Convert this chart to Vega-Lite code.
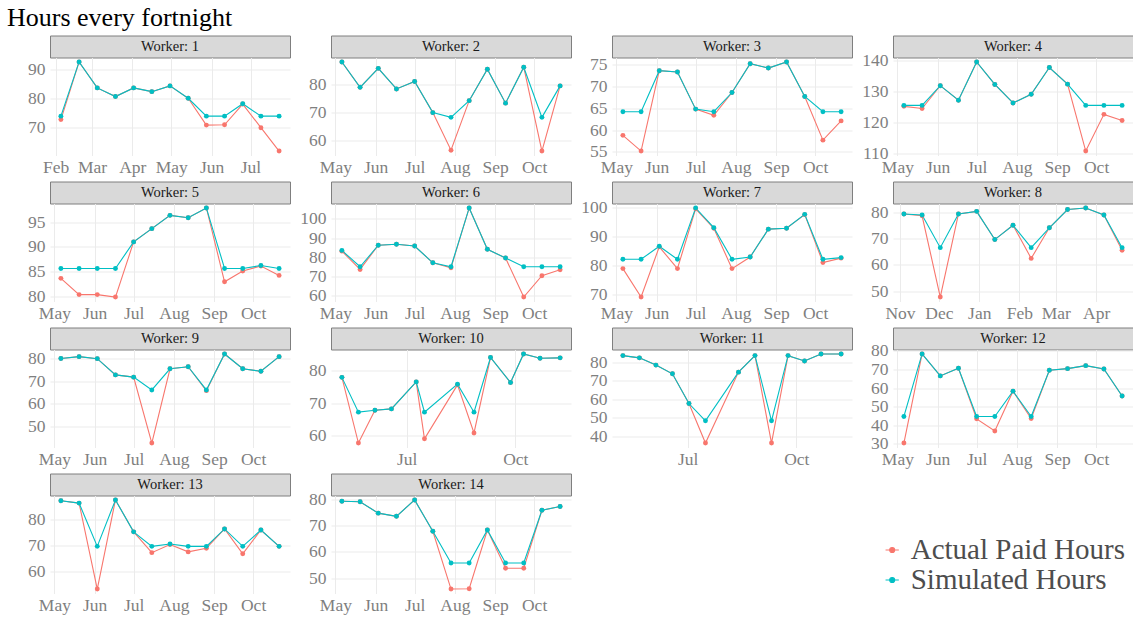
{
"$schema": "https://vega.github.io/schema/vega-lite/v6.json",
"padding": {"left": 7, "top": 4.5, "right": 0, "bottom": 0},
"background": "white",
"title": {"text": "Hours every fortnight", "anchor": "start", "frame": "group", "dx": -43, "offset": -17, "baseline": "alphabetic", "font": "Liberation Serif", "fontSize": 26, "fontWeight": "normal", "color": "#000000"},
"data": {"values": [
{"w":1,"d":"2019-02-05","s":"Actual Paid Hours","h":72.6},{"w":1,"d":"2019-02-19","s":"Actual Paid Hours","h":92.6},{"w":1,"d":"2019-03-05","s":"Actual Paid Hours","h":83.6},{"w":1,"d":"2019-03-19","s":"Actual Paid Hours","h":80.6},{"w":1,"d":"2019-04-02","s":"Actual Paid Hours","h":83.6},{"w":1,"d":"2019-04-16","s":"Actual Paid Hours","h":82.3},{"w":1,"d":"2019-04-30","s":"Actual Paid Hours","h":84.3},{"w":1,"d":"2019-05-14","s":"Actual Paid Hours","h":80.0},{"w":1,"d":"2019-05-28","s":"Actual Paid Hours","h":70.7},{"w":1,"d":"2019-06-11","s":"Actual Paid Hours","h":70.8},{"w":1,"d":"2019-06-25","s":"Actual Paid Hours","h":78.0},{"w":1,"d":"2019-07-09","s":"Actual Paid Hours","h":69.8},{"w":1,"d":"2019-07-23","s":"Actual Paid Hours","h":61.7},
{"w":1,"d":"2019-02-05","s":"Simulated Hours","h":73.8},{"w":1,"d":"2019-02-19","s":"Simulated Hours","h":92.6},{"w":1,"d":"2019-03-05","s":"Simulated Hours","h":83.6},{"w":1,"d":"2019-03-19","s":"Simulated Hours","h":80.6},{"w":1,"d":"2019-04-02","s":"Simulated Hours","h":83.6},{"w":1,"d":"2019-04-16","s":"Simulated Hours","h":82.3},{"w":1,"d":"2019-04-30","s":"Simulated Hours","h":84.3},{"w":1,"d":"2019-05-14","s":"Simulated Hours","h":80.0},{"w":1,"d":"2019-05-28","s":"Simulated Hours","h":73.8},{"w":1,"d":"2019-06-11","s":"Simulated Hours","h":73.8},{"w":1,"d":"2019-06-25","s":"Simulated Hours","h":78.1},{"w":1,"d":"2019-07-09","s":"Simulated Hours","h":73.8},{"w":1,"d":"2019-07-23","s":"Simulated Hours","h":73.8},
{"w":2,"d":"2019-05-06","s":"Actual Paid Hours","h":88.1},{"w":2,"d":"2019-05-20","s":"Actual Paid Hours","h":79.0},{"w":2,"d":"2019-06-03","s":"Actual Paid Hours","h":85.8},{"w":2,"d":"2019-06-17","s":"Actual Paid Hours","h":78.4},{"w":2,"d":"2019-07-01","s":"Actual Paid Hours","h":81.1},{"w":2,"d":"2019-07-15","s":"Actual Paid Hours","h":69.9},{"w":2,"d":"2019-07-29","s":"Actual Paid Hours","h":56.4},{"w":2,"d":"2019-08-12","s":"Actual Paid Hours","h":74.2},{"w":2,"d":"2019-08-26","s":"Actual Paid Hours","h":85.5},{"w":2,"d":"2019-09-09","s":"Actual Paid Hours","h":73.3},{"w":2,"d":"2019-09-23","s":"Actual Paid Hours","h":86.2},{"w":2,"d":"2019-10-07","s":"Actual Paid Hours","h":56.1},{"w":2,"d":"2019-10-21","s":"Actual Paid Hours","h":79.5},
{"w":2,"d":"2019-05-06","s":"Simulated Hours","h":88.1},{"w":2,"d":"2019-05-20","s":"Simulated Hours","h":79.0},{"w":2,"d":"2019-06-03","s":"Simulated Hours","h":85.8},{"w":2,"d":"2019-06-17","s":"Simulated Hours","h":78.4},{"w":2,"d":"2019-07-01","s":"Simulated Hours","h":81.1},{"w":2,"d":"2019-07-15","s":"Simulated Hours","h":69.9},{"w":2,"d":"2019-07-29","s":"Simulated Hours","h":68.2},{"w":2,"d":"2019-08-12","s":"Simulated Hours","h":74.2},{"w":2,"d":"2019-08-26","s":"Simulated Hours","h":85.5},{"w":2,"d":"2019-09-09","s":"Simulated Hours","h":73.3},{"w":2,"d":"2019-09-23","s":"Simulated Hours","h":86.2},{"w":2,"d":"2019-10-07","s":"Simulated Hours","h":68.2},{"w":2,"d":"2019-10-21","s":"Simulated Hours","h":79.5},
{"w":3,"d":"2019-05-06","s":"Actual Paid Hours","h":58.8},{"w":3,"d":"2019-05-20","s":"Actual Paid Hours","h":55.2},{"w":3,"d":"2019-06-03","s":"Actual Paid Hours","h":73.6},{"w":3,"d":"2019-06-17","s":"Actual Paid Hours","h":73.3},{"w":3,"d":"2019-07-01","s":"Actual Paid Hours","h":64.8},{"w":3,"d":"2019-07-15","s":"Actual Paid Hours","h":63.4},{"w":3,"d":"2019-07-29","s":"Actual Paid Hours","h":68.6},{"w":3,"d":"2019-08-12","s":"Actual Paid Hours","h":75.2},{"w":3,"d":"2019-08-26","s":"Actual Paid Hours","h":74.2},{"w":3,"d":"2019-09-09","s":"Actual Paid Hours","h":75.6},{"w":3,"d":"2019-09-23","s":"Actual Paid Hours","h":67.7},{"w":3,"d":"2019-10-07","s":"Actual Paid Hours","h":57.7},{"w":3,"d":"2019-10-21","s":"Actual Paid Hours","h":62.1},
{"w":3,"d":"2019-05-06","s":"Simulated Hours","h":64.2},{"w":3,"d":"2019-05-20","s":"Simulated Hours","h":64.2},{"w":3,"d":"2019-06-03","s":"Simulated Hours","h":73.6},{"w":3,"d":"2019-06-17","s":"Simulated Hours","h":73.3},{"w":3,"d":"2019-07-01","s":"Simulated Hours","h":64.8},{"w":3,"d":"2019-07-15","s":"Simulated Hours","h":64.2},{"w":3,"d":"2019-07-29","s":"Simulated Hours","h":68.6},{"w":3,"d":"2019-08-12","s":"Simulated Hours","h":75.2},{"w":3,"d":"2019-08-26","s":"Simulated Hours","h":74.2},{"w":3,"d":"2019-09-09","s":"Simulated Hours","h":75.6},{"w":3,"d":"2019-09-23","s":"Simulated Hours","h":67.7},{"w":3,"d":"2019-10-07","s":"Simulated Hours","h":64.2},{"w":3,"d":"2019-10-21","s":"Simulated Hours","h":64.2},
{"w":4,"d":"2019-05-06","s":"Actual Paid Hours","h":125.2},{"w":4,"d":"2019-05-20","s":"Actual Paid Hours","h":124.5},{"w":4,"d":"2019-06-03","s":"Actual Paid Hours","h":131.9},{"w":4,"d":"2019-06-17","s":"Actual Paid Hours","h":127.2},{"w":4,"d":"2019-07-01","s":"Actual Paid Hours","h":139.6},{"w":4,"d":"2019-07-15","s":"Actual Paid Hours","h":132.3},{"w":4,"d":"2019-07-29","s":"Actual Paid Hours","h":126.3},{"w":4,"d":"2019-08-12","s":"Actual Paid Hours","h":129.1},{"w":4,"d":"2019-08-26","s":"Actual Paid Hours","h":137.8},{"w":4,"d":"2019-09-09","s":"Actual Paid Hours","h":132.4},{"w":4,"d":"2019-09-23","s":"Actual Paid Hours","h":110.7},{"w":4,"d":"2019-10-07","s":"Actual Paid Hours","h":122.6},{"w":4,"d":"2019-10-21","s":"Actual Paid Hours","h":120.6},
{"w":4,"d":"2019-05-06","s":"Simulated Hours","h":125.5},{"w":4,"d":"2019-05-20","s":"Simulated Hours","h":125.5},{"w":4,"d":"2019-06-03","s":"Simulated Hours","h":131.9},{"w":4,"d":"2019-06-17","s":"Simulated Hours","h":127.2},{"w":4,"d":"2019-07-01","s":"Simulated Hours","h":139.6},{"w":4,"d":"2019-07-15","s":"Simulated Hours","h":132.3},{"w":4,"d":"2019-07-29","s":"Simulated Hours","h":126.3},{"w":4,"d":"2019-08-12","s":"Simulated Hours","h":129.1},{"w":4,"d":"2019-08-26","s":"Simulated Hours","h":137.8},{"w":4,"d":"2019-09-09","s":"Simulated Hours","h":132.4},{"w":4,"d":"2019-09-23","s":"Simulated Hours","h":125.5},{"w":4,"d":"2019-10-07","s":"Simulated Hours","h":125.5},{"w":4,"d":"2019-10-21","s":"Simulated Hours","h":125.5},
{"w":5,"d":"2019-05-06","s":"Actual Paid Hours","h":83.6},{"w":5,"d":"2019-05-20","s":"Actual Paid Hours","h":80.3},{"w":5,"d":"2019-06-03","s":"Actual Paid Hours","h":80.3},{"w":5,"d":"2019-06-17","s":"Actual Paid Hours","h":79.8},{"w":5,"d":"2019-07-01","s":"Actual Paid Hours","h":91.0},{"w":5,"d":"2019-07-15","s":"Actual Paid Hours","h":93.7},{"w":5,"d":"2019-07-29","s":"Actual Paid Hours","h":96.4},{"w":5,"d":"2019-08-12","s":"Actual Paid Hours","h":95.9},{"w":5,"d":"2019-08-26","s":"Actual Paid Hours","h":97.9},{"w":5,"d":"2019-09-09","s":"Actual Paid Hours","h":82.9},{"w":5,"d":"2019-09-23","s":"Actual Paid Hours","h":85.1},{"w":5,"d":"2019-10-07","s":"Actual Paid Hours","h":86.1},{"w":5,"d":"2019-10-21","s":"Actual Paid Hours","h":84.2},
{"w":5,"d":"2019-05-06","s":"Simulated Hours","h":85.6},{"w":5,"d":"2019-05-20","s":"Simulated Hours","h":85.6},{"w":5,"d":"2019-06-03","s":"Simulated Hours","h":85.6},{"w":5,"d":"2019-06-17","s":"Simulated Hours","h":85.6},{"w":5,"d":"2019-07-01","s":"Simulated Hours","h":91.0},{"w":5,"d":"2019-07-15","s":"Simulated Hours","h":93.7},{"w":5,"d":"2019-07-29","s":"Simulated Hours","h":96.4},{"w":5,"d":"2019-08-12","s":"Simulated Hours","h":95.9},{"w":5,"d":"2019-08-26","s":"Simulated Hours","h":97.9},{"w":5,"d":"2019-09-09","s":"Simulated Hours","h":85.6},{"w":5,"d":"2019-09-23","s":"Simulated Hours","h":85.6},{"w":5,"d":"2019-10-07","s":"Simulated Hours","h":86.2},{"w":5,"d":"2019-10-21","s":"Simulated Hours","h":85.6},
{"w":6,"d":"2019-05-06","s":"Actual Paid Hours","h":83.1},{"w":6,"d":"2019-05-20","s":"Actual Paid Hours","h":73.5},{"w":6,"d":"2019-06-03","s":"Actual Paid Hours","h":86.2},{"w":6,"d":"2019-06-17","s":"Actual Paid Hours","h":86.7},{"w":6,"d":"2019-07-01","s":"Actual Paid Hours","h":85.8},{"w":6,"d":"2019-07-15","s":"Actual Paid Hours","h":77.0},{"w":6,"d":"2019-07-29","s":"Actual Paid Hours","h":74.4},{"w":6,"d":"2019-08-12","s":"Actual Paid Hours","h":105.8},{"w":6,"d":"2019-08-26","s":"Actual Paid Hours","h":84.1},{"w":6,"d":"2019-09-09","s":"Actual Paid Hours","h":79.5},{"w":6,"d":"2019-09-23","s":"Actual Paid Hours","h":59.0},{"w":6,"d":"2019-10-07","s":"Actual Paid Hours","h":70.2},{"w":6,"d":"2019-10-21","s":"Actual Paid Hours","h":73.3},
{"w":6,"d":"2019-05-06","s":"Simulated Hours","h":83.5},{"w":6,"d":"2019-05-20","s":"Simulated Hours","h":74.9},{"w":6,"d":"2019-06-03","s":"Simulated Hours","h":86.2},{"w":6,"d":"2019-06-17","s":"Simulated Hours","h":86.7},{"w":6,"d":"2019-07-01","s":"Simulated Hours","h":85.8},{"w":6,"d":"2019-07-15","s":"Simulated Hours","h":77.0},{"w":6,"d":"2019-07-29","s":"Simulated Hours","h":74.9},{"w":6,"d":"2019-08-12","s":"Simulated Hours","h":105.8},{"w":6,"d":"2019-08-26","s":"Simulated Hours","h":84.1},{"w":6,"d":"2019-09-09","s":"Simulated Hours","h":79.5},{"w":6,"d":"2019-09-23","s":"Simulated Hours","h":74.9},{"w":6,"d":"2019-10-07","s":"Simulated Hours","h":74.9},{"w":6,"d":"2019-10-21","s":"Simulated Hours","h":74.9},
{"w":7,"d":"2019-05-06","s":"Actual Paid Hours","h":79.0},{"w":7,"d":"2019-05-20","s":"Actual Paid Hours","h":69.2},{"w":7,"d":"2019-06-03","s":"Actual Paid Hours","h":86.5},{"w":7,"d":"2019-06-17","s":"Actual Paid Hours","h":79.0},{"w":7,"d":"2019-07-01","s":"Actual Paid Hours","h":99.6},{"w":7,"d":"2019-07-15","s":"Actual Paid Hours","h":92.9},{"w":7,"d":"2019-07-29","s":"Actual Paid Hours","h":79.0},{"w":7,"d":"2019-08-12","s":"Actual Paid Hours","h":83.0},{"w":7,"d":"2019-08-26","s":"Actual Paid Hours","h":92.6},{"w":7,"d":"2019-09-09","s":"Actual Paid Hours","h":92.9},{"w":7,"d":"2019-09-23","s":"Actual Paid Hours","h":97.6},{"w":7,"d":"2019-10-07","s":"Actual Paid Hours","h":81.1},{"w":7,"d":"2019-10-21","s":"Actual Paid Hours","h":82.6},
{"w":7,"d":"2019-05-06","s":"Simulated Hours","h":82.2},{"w":7,"d":"2019-05-20","s":"Simulated Hours","h":82.2},{"w":7,"d":"2019-06-03","s":"Simulated Hours","h":86.7},{"w":7,"d":"2019-06-17","s":"Simulated Hours","h":82.2},{"w":7,"d":"2019-07-01","s":"Simulated Hours","h":99.9},{"w":7,"d":"2019-07-15","s":"Simulated Hours","h":93.1},{"w":7,"d":"2019-07-29","s":"Simulated Hours","h":82.2},{"w":7,"d":"2019-08-12","s":"Simulated Hours","h":83.0},{"w":7,"d":"2019-08-26","s":"Simulated Hours","h":92.6},{"w":7,"d":"2019-09-09","s":"Simulated Hours","h":92.9},{"w":7,"d":"2019-09-23","s":"Simulated Hours","h":97.7},{"w":7,"d":"2019-10-07","s":"Simulated Hours","h":82.2},{"w":7,"d":"2019-10-21","s":"Simulated Hours","h":82.8},
{"w":8,"d":"2018-11-04","s":"Actual Paid Hours","h":79.5},{"w":8,"d":"2018-11-18","s":"Actual Paid Hours","h":78.8},{"w":8,"d":"2018-12-02","s":"Actual Paid Hours","h":47.7},{"w":8,"d":"2018-12-16","s":"Actual Paid Hours","h":79.5},{"w":8,"d":"2018-12-30","s":"Actual Paid Hours","h":80.5},{"w":8,"d":"2019-01-13","s":"Actual Paid Hours","h":69.7},{"w":8,"d":"2019-01-27","s":"Actual Paid Hours","h":75.2},{"w":8,"d":"2019-02-10","s":"Actual Paid Hours","h":62.5},{"w":8,"d":"2019-02-24","s":"Actual Paid Hours","h":74.2},{"w":8,"d":"2019-03-10","s":"Actual Paid Hours","h":81.2},{"w":8,"d":"2019-03-24","s":"Actual Paid Hours","h":81.8},{"w":8,"d":"2019-04-07","s":"Actual Paid Hours","h":79.1},{"w":8,"d":"2019-04-21","s":"Actual Paid Hours","h":65.6},
{"w":8,"d":"2018-11-04","s":"Simulated Hours","h":79.5},{"w":8,"d":"2018-11-18","s":"Simulated Hours","h":79.1},{"w":8,"d":"2018-12-02","s":"Simulated Hours","h":66.6},{"w":8,"d":"2018-12-16","s":"Simulated Hours","h":79.5},{"w":8,"d":"2018-12-30","s":"Simulated Hours","h":80.5},{"w":8,"d":"2019-01-13","s":"Simulated Hours","h":69.7},{"w":8,"d":"2019-01-27","s":"Simulated Hours","h":75.2},{"w":8,"d":"2019-02-10","s":"Simulated Hours","h":66.6},{"w":8,"d":"2019-02-24","s":"Simulated Hours","h":74.2},{"w":8,"d":"2019-03-10","s":"Simulated Hours","h":81.2},{"w":8,"d":"2019-03-24","s":"Simulated Hours","h":81.8},{"w":8,"d":"2019-04-07","s":"Simulated Hours","h":79.1},{"w":8,"d":"2019-04-21","s":"Simulated Hours","h":66.6},
{"w":9,"d":"2019-05-06","s":"Actual Paid Hours","h":80.1},{"w":9,"d":"2019-05-20","s":"Actual Paid Hours","h":80.9},{"w":9,"d":"2019-06-03","s":"Actual Paid Hours","h":80.0},{"w":9,"d":"2019-06-17","s":"Actual Paid Hours","h":72.8},{"w":9,"d":"2019-07-01","s":"Actual Paid Hours","h":71.8},{"w":9,"d":"2019-07-15","s":"Actual Paid Hours","h":42.5},{"w":9,"d":"2019-07-29","s":"Actual Paid Hours","h":75.5},{"w":9,"d":"2019-08-12","s":"Actual Paid Hours","h":76.4},{"w":9,"d":"2019-08-26","s":"Actual Paid Hours","h":65.8},{"w":9,"d":"2019-09-09","s":"Actual Paid Hours","h":82.1},{"w":9,"d":"2019-09-23","s":"Actual Paid Hours","h":75.5},{"w":9,"d":"2019-10-07","s":"Actual Paid Hours","h":74.4},{"w":9,"d":"2019-10-21","s":"Actual Paid Hours","h":80.9},
{"w":9,"d":"2019-05-06","s":"Simulated Hours","h":80.1},{"w":9,"d":"2019-05-20","s":"Simulated Hours","h":80.9},{"w":9,"d":"2019-06-03","s":"Simulated Hours","h":80.0},{"w":9,"d":"2019-06-17","s":"Simulated Hours","h":72.8},{"w":9,"d":"2019-07-01","s":"Simulated Hours","h":71.8},{"w":9,"d":"2019-07-15","s":"Simulated Hours","h":66.1},{"w":9,"d":"2019-07-29","s":"Simulated Hours","h":75.5},{"w":9,"d":"2019-08-12","s":"Simulated Hours","h":76.4},{"w":9,"d":"2019-08-26","s":"Simulated Hours","h":66.1},{"w":9,"d":"2019-09-09","s":"Simulated Hours","h":82.1},{"w":9,"d":"2019-09-23","s":"Simulated Hours","h":75.5},{"w":9,"d":"2019-10-07","s":"Simulated Hours","h":74.4},{"w":9,"d":"2019-10-21","s":"Simulated Hours","h":80.9},
{"w":10,"d":"2019-05-07","s":"Actual Paid Hours","h":77.9},{"w":10,"d":"2019-05-21","s":"Actual Paid Hours","h":57.7},{"w":10,"d":"2019-06-04","s":"Actual Paid Hours","h":67.8},{"w":10,"d":"2019-06-18","s":"Actual Paid Hours","h":68.2},{"w":10,"d":"2019-07-09","s":"Actual Paid Hours","h":76.5},{"w":10,"d":"2019-07-16","s":"Actual Paid Hours","h":59.0},{"w":10,"d":"2019-08-13","s":"Actual Paid Hours","h":75.6},{"w":10,"d":"2019-08-27","s":"Actual Paid Hours","h":60.8},{"w":10,"d":"2019-09-10","s":"Actual Paid Hours","h":84.0},{"w":10,"d":"2019-09-27","s":"Actual Paid Hours","h":76.3},{"w":10,"d":"2019-10-08","s":"Actual Paid Hours","h":85.1},{"w":10,"d":"2019-10-22","s":"Actual Paid Hours","h":83.8},{"w":10,"d":"2019-11-08","s":"Actual Paid Hours","h":83.9},
{"w":10,"d":"2019-05-07","s":"Simulated Hours","h":77.9},{"w":10,"d":"2019-05-21","s":"Simulated Hours","h":67.2},{"w":10,"d":"2019-06-04","s":"Simulated Hours","h":67.8},{"w":10,"d":"2019-06-18","s":"Simulated Hours","h":68.2},{"w":10,"d":"2019-07-09","s":"Simulated Hours","h":76.5},{"w":10,"d":"2019-07-16","s":"Simulated Hours","h":67.2},{"w":10,"d":"2019-08-13","s":"Simulated Hours","h":75.8},{"w":10,"d":"2019-08-27","s":"Simulated Hours","h":67.2},{"w":10,"d":"2019-09-10","s":"Simulated Hours","h":84.0},{"w":10,"d":"2019-09-27","s":"Simulated Hours","h":76.3},{"w":10,"d":"2019-10-08","s":"Simulated Hours","h":85.1},{"w":10,"d":"2019-10-22","s":"Simulated Hours","h":83.8},{"w":10,"d":"2019-11-08","s":"Simulated Hours","h":83.9},
{"w":11,"d":"2019-05-07","s":"Actual Paid Hours","h":83.6},{"w":11,"d":"2019-05-21","s":"Actual Paid Hours","h":82.4},{"w":11,"d":"2019-06-04","s":"Actual Paid Hours","h":78.5},{"w":11,"d":"2019-06-18","s":"Actual Paid Hours","h":73.8},{"w":11,"d":"2019-07-02","s":"Actual Paid Hours","h":57.8},{"w":11,"d":"2019-07-16","s":"Actual Paid Hours","h":36.5},{"w":11,"d":"2019-08-13","s":"Actual Paid Hours","h":74.7},{"w":11,"d":"2019-08-27","s":"Actual Paid Hours","h":83.6},{"w":11,"d":"2019-09-10","s":"Actual Paid Hours","h":36.5},{"w":11,"d":"2019-09-24","s":"Actual Paid Hours","h":83.6},{"w":11,"d":"2019-10-08","s":"Actual Paid Hours","h":80.7},{"w":11,"d":"2019-10-22","s":"Actual Paid Hours","h":84.5},{"w":11,"d":"2019-11-08","s":"Actual Paid Hours","h":84.5},
{"w":11,"d":"2019-05-07","s":"Simulated Hours","h":83.6},{"w":11,"d":"2019-05-21","s":"Simulated Hours","h":82.4},{"w":11,"d":"2019-06-04","s":"Simulated Hours","h":78.5},{"w":11,"d":"2019-06-18","s":"Simulated Hours","h":73.8},{"w":11,"d":"2019-07-02","s":"Simulated Hours","h":57.8},{"w":11,"d":"2019-07-16","s":"Simulated Hours","h":48.5},{"w":11,"d":"2019-08-13","s":"Simulated Hours","h":74.7},{"w":11,"d":"2019-08-27","s":"Simulated Hours","h":83.6},{"w":11,"d":"2019-09-10","s":"Simulated Hours","h":48.5},{"w":11,"d":"2019-09-24","s":"Simulated Hours","h":83.6},{"w":11,"d":"2019-10-08","s":"Simulated Hours","h":80.7},{"w":11,"d":"2019-10-22","s":"Simulated Hours","h":84.5},{"w":11,"d":"2019-11-08","s":"Simulated Hours","h":84.5},
{"w":12,"d":"2019-05-06","s":"Actual Paid Hours","h":30.5},{"w":12,"d":"2019-05-20","s":"Actual Paid Hours","h":78.4},{"w":12,"d":"2019-06-03","s":"Actual Paid Hours","h":66.6},{"w":12,"d":"2019-06-17","s":"Actual Paid Hours","h":70.7},{"w":12,"d":"2019-07-01","s":"Actual Paid Hours","h":43.5},{"w":12,"d":"2019-07-15","s":"Actual Paid Hours","h":37.0},{"w":12,"d":"2019-07-29","s":"Actual Paid Hours","h":58.4},{"w":12,"d":"2019-08-12","s":"Actual Paid Hours","h":43.7},{"w":12,"d":"2019-08-26","s":"Actual Paid Hours","h":69.6},{"w":12,"d":"2019-09-09","s":"Actual Paid Hours","h":70.5},{"w":12,"d":"2019-09-23","s":"Actual Paid Hours","h":72.1},{"w":12,"d":"2019-10-07","s":"Actual Paid Hours","h":70.3},{"w":12,"d":"2019-10-21","s":"Actual Paid Hours","h":55.8},
{"w":12,"d":"2019-05-06","s":"Simulated Hours","h":44.8},{"w":12,"d":"2019-05-20","s":"Simulated Hours","h":78.4},{"w":12,"d":"2019-06-03","s":"Simulated Hours","h":66.6},{"w":12,"d":"2019-06-17","s":"Simulated Hours","h":70.7},{"w":12,"d":"2019-07-01","s":"Simulated Hours","h":44.8},{"w":12,"d":"2019-07-15","s":"Simulated Hours","h":44.8},{"w":12,"d":"2019-07-29","s":"Simulated Hours","h":58.4},{"w":12,"d":"2019-08-12","s":"Simulated Hours","h":44.8},{"w":12,"d":"2019-08-26","s":"Simulated Hours","h":69.6},{"w":12,"d":"2019-09-09","s":"Simulated Hours","h":70.5},{"w":12,"d":"2019-09-23","s":"Simulated Hours","h":72.1},{"w":12,"d":"2019-10-07","s":"Simulated Hours","h":70.3},{"w":12,"d":"2019-10-21","s":"Simulated Hours","h":55.8},
{"w":13,"d":"2019-05-06","s":"Actual Paid Hours","h":87.0},{"w":13,"d":"2019-05-20","s":"Actual Paid Hours","h":86.1},{"w":13,"d":"2019-06-03","s":"Actual Paid Hours","h":53.5},{"w":13,"d":"2019-06-17","s":"Actual Paid Hours","h":87.3},{"w":13,"d":"2019-07-01","s":"Actual Paid Hours","h":75.2},{"w":13,"d":"2019-07-15","s":"Actual Paid Hours","h":67.3},{"w":13,"d":"2019-07-29","s":"Actual Paid Hours","h":70.4},{"w":13,"d":"2019-08-12","s":"Actual Paid Hours","h":67.6},{"w":13,"d":"2019-08-26","s":"Actual Paid Hours","h":69.0},{"w":13,"d":"2019-09-09","s":"Actual Paid Hours","h":76.3},{"w":13,"d":"2019-09-23","s":"Actual Paid Hours","h":66.9},{"w":13,"d":"2019-10-07","s":"Actual Paid Hours","h":75.9},{"w":13,"d":"2019-10-21","s":"Actual Paid Hours","h":69.7},
{"w":13,"d":"2019-05-06","s":"Simulated Hours","h":87.0},{"w":13,"d":"2019-05-20","s":"Simulated Hours","h":86.1},{"w":13,"d":"2019-06-03","s":"Simulated Hours","h":69.7},{"w":13,"d":"2019-06-17","s":"Simulated Hours","h":87.3},{"w":13,"d":"2019-07-01","s":"Simulated Hours","h":75.2},{"w":13,"d":"2019-07-15","s":"Simulated Hours","h":69.7},{"w":13,"d":"2019-07-29","s":"Simulated Hours","h":70.6},{"w":13,"d":"2019-08-12","s":"Simulated Hours","h":69.7},{"w":13,"d":"2019-08-26","s":"Simulated Hours","h":69.7},{"w":13,"d":"2019-09-09","s":"Simulated Hours","h":76.3},{"w":13,"d":"2019-09-23","s":"Simulated Hours","h":69.7},{"w":13,"d":"2019-10-07","s":"Simulated Hours","h":75.9},{"w":13,"d":"2019-10-21","s":"Simulated Hours","h":69.7},
{"w":14,"d":"2019-05-06","s":"Actual Paid Hours","h":79.2},{"w":14,"d":"2019-05-20","s":"Actual Paid Hours","h":79.0},{"w":14,"d":"2019-06-03","s":"Actual Paid Hours","h":74.7},{"w":14,"d":"2019-06-17","s":"Actual Paid Hours","h":73.5},{"w":14,"d":"2019-07-01","s":"Actual Paid Hours","h":79.7},{"w":14,"d":"2019-07-15","s":"Actual Paid Hours","h":67.8},{"w":14,"d":"2019-07-29","s":"Actual Paid Hours","h":45.9},{"w":14,"d":"2019-08-12","s":"Actual Paid Hours","h":46.0},{"w":14,"d":"2019-08-26","s":"Actual Paid Hours","h":68.3},{"w":14,"d":"2019-09-09","s":"Actual Paid Hours","h":53.8},{"w":14,"d":"2019-09-23","s":"Actual Paid Hours","h":53.8},{"w":14,"d":"2019-10-07","s":"Actual Paid Hours","h":75.8},{"w":14,"d":"2019-10-21","s":"Actual Paid Hours","h":77.2},
{"w":14,"d":"2019-05-06","s":"Simulated Hours","h":79.2},{"w":14,"d":"2019-05-20","s":"Simulated Hours","h":79.0},{"w":14,"d":"2019-06-03","s":"Simulated Hours","h":74.7},{"w":14,"d":"2019-06-17","s":"Simulated Hours","h":73.5},{"w":14,"d":"2019-07-01","s":"Simulated Hours","h":79.7},{"w":14,"d":"2019-07-15","s":"Simulated Hours","h":67.8},{"w":14,"d":"2019-07-29","s":"Simulated Hours","h":55.8},{"w":14,"d":"2019-08-12","s":"Simulated Hours","h":55.8},{"w":14,"d":"2019-08-26","s":"Simulated Hours","h":68.3},{"w":14,"d":"2019-09-09","s":"Simulated Hours","h":55.8},{"w":14,"d":"2019-09-23","s":"Simulated Hours","h":55.8},{"w":14,"d":"2019-10-07","s":"Simulated Hours","h":75.8},{"w":14,"d":"2019-10-21","s":"Simulated Hours","h":77.2}
]},
"columns": 4,
"spacing": {"row": 0, "column": 41},
"bounds": "flush",
"concat": [
{"width":240,"height":22,"data":{"values":[{"label":"Worker: 1"}]},"mark":{"type":"text","font":"Liberation Serif","fontSize":14.5,"color":"#1A1A1A"},"encoding":{"text":{"field":"label"}},"view":{"fill":"#D9D9D9","stroke":"#7F7F7F","strokeWidth":1}},
{"width":240,"height":22,"data":{"values":[{"label":"Worker: 2"}]},"mark":{"type":"text","font":"Liberation Serif","fontSize":14.5,"color":"#1A1A1A"},"encoding":{"text":{"field":"label"}},"view":{"fill":"#D9D9D9","stroke":"#7F7F7F","strokeWidth":1}},
{"width":240,"height":22,"data":{"values":[{"label":"Worker: 3"}]},"mark":{"type":"text","font":"Liberation Serif","fontSize":14.5,"color":"#1A1A1A"},"encoding":{"text":{"field":"label"}},"view":{"fill":"#D9D9D9","stroke":"#7F7F7F","strokeWidth":1}},
{"width":240,"height":22,"data":{"values":[{"label":"Worker: 4"}]},"mark":{"type":"text","font":"Liberation Serif","fontSize":14.5,"color":"#1A1A1A"},"encoding":{"text":{"field":"label"}},"view":{"fill":"#D9D9D9","stroke":"#7F7F7F","strokeWidth":1}},
{"width":240,"height":98,"transform":[{"filter":"datum.w==1"}],"encoding":{"x":{"field":"d","type":"temporal","scale":{"type":"utc","padding":10.9,"nice":false},"axis":{"title":null,"format":"%b","tickCount":{"interval":"month","step":1}}},"y":{"field":"h","type":"quantitative","scale":{"zero":false,"nice":false,"padding":4.45},"axis":{"title":null,"values":[70,80,90]}},"color":{"field":"s","type":"nominal","scale":{"domain":["Actual Paid Hours","Simulated Hours"],"range":["#F8766D","#00BFC4"]},"legend":{"title":null,"encode":{"symbols":{"update":{"fill":{"scale":"color","field":"value"},"stroke":{"scale":"color","field":"value"},"opacity":{"value":1}}}}}}},"layer":[{"mark":{"type":"line","strokeWidth":1.1}},{"mark":{"type":"point","filled":true,"size":24,"opacity":1}}]},
{"width":240,"height":98,"transform":[{"filter":"datum.w==2"}],"encoding":{"x":{"field":"d","type":"temporal","scale":{"type":"utc","padding":10.9,"nice":false},"axis":{"title":null,"format":"%b","tickCount":{"interval":"month","step":1}}},"y":{"field":"h","type":"quantitative","scale":{"zero":false,"nice":false,"padding":4.45},"axis":{"title":null,"values":[60,70,80]}},"color":{"field":"s","type":"nominal","scale":{"domain":["Actual Paid Hours","Simulated Hours"],"range":["#F8766D","#00BFC4"]},"legend":{"title":null,"encode":{"symbols":{"update":{"fill":{"scale":"color","field":"value"},"stroke":{"scale":"color","field":"value"},"opacity":{"value":1}}}}}}},"layer":[{"mark":{"type":"line","strokeWidth":1.1}},{"mark":{"type":"point","filled":true,"size":24,"opacity":1}}]},
{"width":240,"height":98,"transform":[{"filter":"datum.w==3"}],"encoding":{"x":{"field":"d","type":"temporal","scale":{"type":"utc","padding":10.9,"nice":false},"axis":{"title":null,"format":"%b","tickCount":{"interval":"month","step":1}}},"y":{"field":"h","type":"quantitative","scale":{"zero":false,"nice":false,"padding":4.45},"axis":{"title":null,"values":[55,60,65,70,75]}},"color":{"field":"s","type":"nominal","scale":{"domain":["Actual Paid Hours","Simulated Hours"],"range":["#F8766D","#00BFC4"]},"legend":{"title":null,"encode":{"symbols":{"update":{"fill":{"scale":"color","field":"value"},"stroke":{"scale":"color","field":"value"},"opacity":{"value":1}}}}}}},"layer":[{"mark":{"type":"line","strokeWidth":1.1}},{"mark":{"type":"point","filled":true,"size":24,"opacity":1}}]},
{"width":240,"height":98,"transform":[{"filter":"datum.w==4"}],"encoding":{"x":{"field":"d","type":"temporal","scale":{"type":"utc","padding":10.9,"nice":false},"axis":{"title":null,"format":"%b","tickCount":{"interval":"month","step":1}}},"y":{"field":"h","type":"quantitative","scale":{"zero":false,"nice":false,"padding":4.45},"axis":{"title":null,"values":[110,120,130,140]}},"color":{"field":"s","type":"nominal","scale":{"domain":["Actual Paid Hours","Simulated Hours"],"range":["#F8766D","#00BFC4"]},"legend":{"title":null,"encode":{"symbols":{"update":{"fill":{"scale":"color","field":"value"},"stroke":{"scale":"color","field":"value"},"opacity":{"value":1}}}}}}},"layer":[{"mark":{"type":"line","strokeWidth":1.1}},{"mark":{"type":"point","filled":true,"size":24,"opacity":1}}]},
{"width":240,"height":26,"data":{"values":[]},"mark":"text","encoding":{},"view":{"stroke":null}},
{"width":240,"height":26,"data":{"values":[]},"mark":"text","encoding":{},"view":{"stroke":null}},
{"width":240,"height":26,"data":{"values":[]},"mark":"text","encoding":{},"view":{"stroke":null}},
{"width":240,"height":26,"data":{"values":[]},"mark":"text","encoding":{},"view":{"stroke":null}},
{"width":240,"height":22,"data":{"values":[{"label":"Worker: 5"}]},"mark":{"type":"text","font":"Liberation Serif","fontSize":14.5,"color":"#1A1A1A"},"encoding":{"text":{"field":"label"}},"view":{"fill":"#D9D9D9","stroke":"#7F7F7F","strokeWidth":1}},
{"width":240,"height":22,"data":{"values":[{"label":"Worker: 6"}]},"mark":{"type":"text","font":"Liberation Serif","fontSize":14.5,"color":"#1A1A1A"},"encoding":{"text":{"field":"label"}},"view":{"fill":"#D9D9D9","stroke":"#7F7F7F","strokeWidth":1}},
{"width":240,"height":22,"data":{"values":[{"label":"Worker: 7"}]},"mark":{"type":"text","font":"Liberation Serif","fontSize":14.5,"color":"#1A1A1A"},"encoding":{"text":{"field":"label"}},"view":{"fill":"#D9D9D9","stroke":"#7F7F7F","strokeWidth":1}},
{"width":240,"height":22,"data":{"values":[{"label":"Worker: 8"}]},"mark":{"type":"text","font":"Liberation Serif","fontSize":14.5,"color":"#1A1A1A"},"encoding":{"text":{"field":"label"}},"view":{"fill":"#D9D9D9","stroke":"#7F7F7F","strokeWidth":1}},
{"width":240,"height":98,"transform":[{"filter":"datum.w==5"}],"encoding":{"x":{"field":"d","type":"temporal","scale":{"type":"utc","padding":10.9,"nice":false},"axis":{"title":null,"format":"%b","tickCount":{"interval":"month","step":1}}},"y":{"field":"h","type":"quantitative","scale":{"zero":false,"nice":false,"padding":4.45},"axis":{"title":null,"values":[80,85,90,95]}},"color":{"field":"s","type":"nominal","scale":{"domain":["Actual Paid Hours","Simulated Hours"],"range":["#F8766D","#00BFC4"]},"legend":{"title":null,"encode":{"symbols":{"update":{"fill":{"scale":"color","field":"value"},"stroke":{"scale":"color","field":"value"},"opacity":{"value":1}}}}}}},"layer":[{"mark":{"type":"line","strokeWidth":1.1}},{"mark":{"type":"point","filled":true,"size":24,"opacity":1}}]},
{"width":240,"height":98,"transform":[{"filter":"datum.w==6"}],"encoding":{"x":{"field":"d","type":"temporal","scale":{"type":"utc","padding":10.9,"nice":false},"axis":{"title":null,"format":"%b","tickCount":{"interval":"month","step":1}}},"y":{"field":"h","type":"quantitative","scale":{"zero":false,"nice":false,"padding":4.45},"axis":{"title":null,"values":[60,70,80,90,100]}},"color":{"field":"s","type":"nominal","scale":{"domain":["Actual Paid Hours","Simulated Hours"],"range":["#F8766D","#00BFC4"]},"legend":{"title":null,"encode":{"symbols":{"update":{"fill":{"scale":"color","field":"value"},"stroke":{"scale":"color","field":"value"},"opacity":{"value":1}}}}}}},"layer":[{"mark":{"type":"line","strokeWidth":1.1}},{"mark":{"type":"point","filled":true,"size":24,"opacity":1}}]},
{"width":240,"height":98,"transform":[{"filter":"datum.w==7"}],"encoding":{"x":{"field":"d","type":"temporal","scale":{"type":"utc","padding":10.9,"nice":false},"axis":{"title":null,"format":"%b","tickCount":{"interval":"month","step":1}}},"y":{"field":"h","type":"quantitative","scale":{"zero":false,"nice":false,"padding":4.45},"axis":{"title":null,"values":[70,80,90,100]}},"color":{"field":"s","type":"nominal","scale":{"domain":["Actual Paid Hours","Simulated Hours"],"range":["#F8766D","#00BFC4"]},"legend":{"title":null,"encode":{"symbols":{"update":{"fill":{"scale":"color","field":"value"},"stroke":{"scale":"color","field":"value"},"opacity":{"value":1}}}}}}},"layer":[{"mark":{"type":"line","strokeWidth":1.1}},{"mark":{"type":"point","filled":true,"size":24,"opacity":1}}]},
{"width":240,"height":98,"transform":[{"filter":"datum.w==8"}],"encoding":{"x":{"field":"d","type":"temporal","scale":{"type":"utc","padding":10.9,"nice":false},"axis":{"title":null,"format":"%b","tickCount":{"interval":"month","step":1}}},"y":{"field":"h","type":"quantitative","scale":{"zero":false,"nice":false,"padding":4.45},"axis":{"title":null,"values":[50,60,70,80]}},"color":{"field":"s","type":"nominal","scale":{"domain":["Actual Paid Hours","Simulated Hours"],"range":["#F8766D","#00BFC4"]},"legend":{"title":null,"encode":{"symbols":{"update":{"fill":{"scale":"color","field":"value"},"stroke":{"scale":"color","field":"value"},"opacity":{"value":1}}}}}}},"layer":[{"mark":{"type":"line","strokeWidth":1.1}},{"mark":{"type":"point","filled":true,"size":24,"opacity":1}}]},
{"width":240,"height":26,"data":{"values":[]},"mark":"text","encoding":{},"view":{"stroke":null}},
{"width":240,"height":26,"data":{"values":[]},"mark":"text","encoding":{},"view":{"stroke":null}},
{"width":240,"height":26,"data":{"values":[]},"mark":"text","encoding":{},"view":{"stroke":null}},
{"width":240,"height":26,"data":{"values":[]},"mark":"text","encoding":{},"view":{"stroke":null}},
{"width":240,"height":22,"data":{"values":[{"label":"Worker: 9"}]},"mark":{"type":"text","font":"Liberation Serif","fontSize":14.5,"color":"#1A1A1A"},"encoding":{"text":{"field":"label"}},"view":{"fill":"#D9D9D9","stroke":"#7F7F7F","strokeWidth":1}},
{"width":240,"height":22,"data":{"values":[{"label":"Worker: 10"}]},"mark":{"type":"text","font":"Liberation Serif","fontSize":14.5,"color":"#1A1A1A"},"encoding":{"text":{"field":"label"}},"view":{"fill":"#D9D9D9","stroke":"#7F7F7F","strokeWidth":1}},
{"width":240,"height":22,"data":{"values":[{"label":"Worker: 11"}]},"mark":{"type":"text","font":"Liberation Serif","fontSize":14.5,"color":"#1A1A1A"},"encoding":{"text":{"field":"label"}},"view":{"fill":"#D9D9D9","stroke":"#7F7F7F","strokeWidth":1}},
{"width":240,"height":22,"data":{"values":[{"label":"Worker: 12"}]},"mark":{"type":"text","font":"Liberation Serif","fontSize":14.5,"color":"#1A1A1A"},"encoding":{"text":{"field":"label"}},"view":{"fill":"#D9D9D9","stroke":"#7F7F7F","strokeWidth":1}},
{"width":240,"height":98,"transform":[{"filter":"datum.w==9"}],"encoding":{"x":{"field":"d","type":"temporal","scale":{"type":"utc","padding":10.9,"nice":false},"axis":{"title":null,"format":"%b","tickCount":{"interval":"month","step":1}}},"y":{"field":"h","type":"quantitative","scale":{"zero":false,"nice":false,"padding":4.45},"axis":{"title":null,"values":[50,60,70,80]}},"color":{"field":"s","type":"nominal","scale":{"domain":["Actual Paid Hours","Simulated Hours"],"range":["#F8766D","#00BFC4"]},"legend":{"title":null,"encode":{"symbols":{"update":{"fill":{"scale":"color","field":"value"},"stroke":{"scale":"color","field":"value"},"opacity":{"value":1}}}}}}},"layer":[{"mark":{"type":"line","strokeWidth":1.1}},{"mark":{"type":"point","filled":true,"size":24,"opacity":1}}]},
{"width":240,"height":98,"transform":[{"filter":"datum.w==10"}],"encoding":{"x":{"field":"d","type":"temporal","scale":{"type":"utc","padding":10.9,"nice":false},"axis":{"title":null,"format":"%b","tickCount":{"interval":"month","step":3}}},"y":{"field":"h","type":"quantitative","scale":{"zero":false,"nice":false,"padding":4.45},"axis":{"title":null,"values":[60,70,80]}},"color":{"field":"s","type":"nominal","scale":{"domain":["Actual Paid Hours","Simulated Hours"],"range":["#F8766D","#00BFC4"]},"legend":{"title":null,"encode":{"symbols":{"update":{"fill":{"scale":"color","field":"value"},"stroke":{"scale":"color","field":"value"},"opacity":{"value":1}}}}}}},"layer":[{"mark":{"type":"line","strokeWidth":1.1}},{"mark":{"type":"point","filled":true,"size":24,"opacity":1}}]},
{"width":240,"height":98,"transform":[{"filter":"datum.w==11"}],"encoding":{"x":{"field":"d","type":"temporal","scale":{"type":"utc","padding":10.9,"nice":false},"axis":{"title":null,"format":"%b","tickCount":{"interval":"month","step":3}}},"y":{"field":"h","type":"quantitative","scale":{"zero":false,"nice":false,"padding":4.45},"axis":{"title":null,"values":[40,50,60,70,80]}},"color":{"field":"s","type":"nominal","scale":{"domain":["Actual Paid Hours","Simulated Hours"],"range":["#F8766D","#00BFC4"]},"legend":{"title":null,"encode":{"symbols":{"update":{"fill":{"scale":"color","field":"value"},"stroke":{"scale":"color","field":"value"},"opacity":{"value":1}}}}}}},"layer":[{"mark":{"type":"line","strokeWidth":1.1}},{"mark":{"type":"point","filled":true,"size":24,"opacity":1}}]},
{"width":240,"height":98,"transform":[{"filter":"datum.w==12"}],"encoding":{"x":{"field":"d","type":"temporal","scale":{"type":"utc","padding":10.9,"nice":false},"axis":{"title":null,"format":"%b","tickCount":{"interval":"month","step":1}}},"y":{"field":"h","type":"quantitative","scale":{"zero":false,"nice":false,"padding":4.45},"axis":{"title":null,"values":[30,40,50,60,70,80]}},"color":{"field":"s","type":"nominal","scale":{"domain":["Actual Paid Hours","Simulated Hours"],"range":["#F8766D","#00BFC4"]},"legend":{"title":null,"encode":{"symbols":{"update":{"fill":{"scale":"color","field":"value"},"stroke":{"scale":"color","field":"value"},"opacity":{"value":1}}}}}}},"layer":[{"mark":{"type":"line","strokeWidth":1.1}},{"mark":{"type":"point","filled":true,"size":24,"opacity":1}}]},
{"width":240,"height":26,"data":{"values":[]},"mark":"text","encoding":{},"view":{"stroke":null}},
{"width":240,"height":26,"data":{"values":[]},"mark":"text","encoding":{},"view":{"stroke":null}},
{"width":240,"height":26,"data":{"values":[]},"mark":"text","encoding":{},"view":{"stroke":null}},
{"width":240,"height":26,"data":{"values":[]},"mark":"text","encoding":{},"view":{"stroke":null}},
{"width":240,"height":22,"data":{"values":[{"label":"Worker: 13"}]},"mark":{"type":"text","font":"Liberation Serif","fontSize":14.5,"color":"#1A1A1A"},"encoding":{"text":{"field":"label"}},"view":{"fill":"#D9D9D9","stroke":"#7F7F7F","strokeWidth":1}},
{"width":240,"height":22,"data":{"values":[{"label":"Worker: 14"}]},"mark":{"type":"text","font":"Liberation Serif","fontSize":14.5,"color":"#1A1A1A"},"encoding":{"text":{"field":"label"}},"view":{"fill":"#D9D9D9","stroke":"#7F7F7F","strokeWidth":1}},
{"width":240,"height":10,"data":{"values":[]},"mark":"text","encoding":{},"view":{"stroke":null}},
{"width":240,"height":10,"data":{"values":[]},"mark":"text","encoding":{},"view":{"stroke":null}},
{"width":240,"height":98,"transform":[{"filter":"datum.w==13"}],"encoding":{"x":{"field":"d","type":"temporal","scale":{"type":"utc","padding":10.9,"nice":false},"axis":{"title":null,"format":"%b","tickCount":{"interval":"month","step":1}}},"y":{"field":"h","type":"quantitative","scale":{"zero":false,"nice":false,"padding":4.45},"axis":{"title":null,"values":[60,70,80]}},"color":{"field":"s","type":"nominal","scale":{"domain":["Actual Paid Hours","Simulated Hours"],"range":["#F8766D","#00BFC4"]},"legend":{"title":null,"encode":{"symbols":{"update":{"fill":{"scale":"color","field":"value"},"stroke":{"scale":"color","field":"value"},"opacity":{"value":1}}}}}}},"layer":[{"mark":{"type":"line","strokeWidth":1.1}},{"mark":{"type":"point","filled":true,"size":24,"opacity":1}}]},
{"width":240,"height":98,"transform":[{"filter":"datum.w==14"}],"encoding":{"x":{"field":"d","type":"temporal","scale":{"type":"utc","padding":10.9,"nice":false},"axis":{"title":null,"format":"%b","tickCount":{"interval":"month","step":1}}},"y":{"field":"h","type":"quantitative","scale":{"zero":false,"nice":false,"padding":4.45},"axis":{"title":null,"values":[50,60,70,80]}},"color":{"field":"s","type":"nominal","scale":{"domain":["Actual Paid Hours","Simulated Hours"],"range":["#F8766D","#00BFC4"]},"legend":{"title":null,"encode":{"symbols":{"update":{"fill":{"scale":"color","field":"value"},"stroke":{"scale":"color","field":"value"},"opacity":{"value":1}}}}}}},"layer":[{"mark":{"type":"line","strokeWidth":1.1}},{"mark":{"type":"point","filled":true,"size":24,"opacity":1}}]}
],
"config": {
"view": {"stroke": null},
"axis": {"labelFont": "Liberation Serif", "labelFontSize": 17.5, "labelColor": "#7F7F7F", "ticks": false, "tickSize": 0, "domain": false, "grid": true, "gridColor": "#EBEBEB", "gridWidth": 1, "labelOverlap": false, "labelFlush": false, "labelBound": false},
"axisX": {"labelPadding": 3},
"axisY": {"labelPadding": 5},
"legend": {"orient": "none", "legendX": 827.7, "legendY": 500, "labelFont": "Liberation Serif", "labelFontSize": 29, "labelColor": "#4D4D4D", "symbolType": "M-1,0H1M0.38,0A0.38,0.38 0 1,1 -0.38,0A0.38,0.38 0 1,1 0.38,0", "symbolSize": 177, "symbolStrokeWidth": 1.1, "labelOffset": 4, "rowPadding": -9, "padding": 0, "labelLimit": 400}
}
}
